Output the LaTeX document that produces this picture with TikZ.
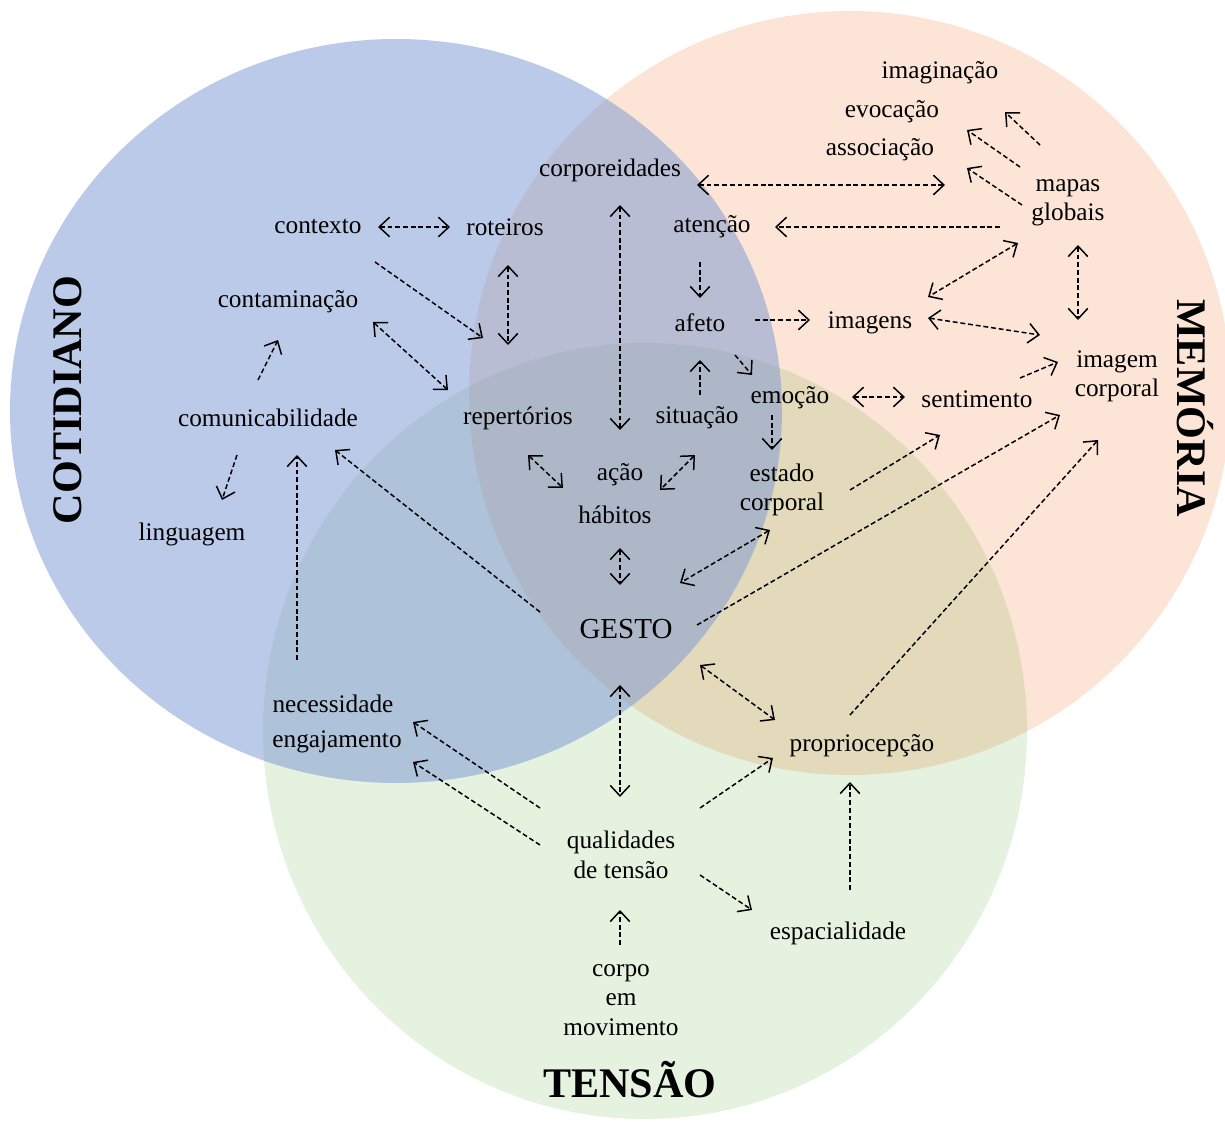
\documentclass[tikz,border=0pt]{standalone}
\usepackage{fontspec}
\setmainfont{Liberation Serif}
\usetikzlibrary{arrows.meta}

\definecolor{cotidiano}{RGB}{120,150,212}
\definecolor{memoria}{RGB}{252,229,214}
\definecolor{tensao}{RGB}{230,242,224}

\tikzset{
	word/.style={font=\fontsize{14.4}{16.7}\selectfont, inner sep=3pt, align=center},
	title/.style={font=\fontsize{24}{28}\selectfont\bfseries, inner sep=0pt},
	link/.style={line width=0.85pt, dash pattern=on 2.8pt off 1.6pt, >={Straight Barb[length=2.1mm,width=3.9mm]}}
}

\begin{document}
\begin{tikzpicture}[x=0.02cm,y=-0.02cm]
		
		\useasboundingbox[fill=white] (0,0) rectangle (1225,1122);
		
		%Circles
		\begin{scope}[blend group=multiply]
		\fill[memoria] (850,393) ellipse (381 and 382);
		\fill[tensao] (645,731) ellipse (382 and 388);
		\end{scope}
		\fill[cotidiano, fill opacity=0.5] (396,411) ellipse (386 and 372);
		
		%Titles
		\node[title, rotate=90] (cot) at (68,400) {COTIDIANO};
		\node[title, rotate=-90] (mem) at (1195,408) {MEMÓRIA};
		\node[title] (ten) at (630,1080) {TENSÃO};
		
		%Words
		\node[word] (imaginacao) at (940,73) {imaginação};
		\node[word] (evocacao) at (892,112) {evocação};
		\node[word] (associacao) at (880,150) {associação};
		\node[word] (corporeidades) at (610,170) {corporeidades};
		\node[word] (mapas) at (1068,203) {mapas\\globais};
		\node[word] (contexto) at (318,227) {contexto};
		\node[word] (roteiros) at (505,227) {roteiros};
		\node[word] (atencao) at (712,227) {atenção};
		\node[word] (contaminacao) at (288,302) {contaminação};
		\node[word] (afeto) at (700,323) {afeto};
		\node[word] (imagens) at (870,323) {imagens};
		\node[word] (imgcorporal) at (1117,376) {imagem\\corporal};
		\node[word] (comunicabilidade) at (268,418) {comunicabilidade};
		\node[word] (repertorios) at (518,418) {repertórios};
		\node[word] (situacao) at (697,418) {situação};
		\node[word] (emocao) at (790,398) {emoção};
		\node[word] (sentimento) at (977,399) {sentimento};
		\node[word] (acao) at (620,475) {ação};
		\node[word] (habitos) at (615,515) {hábitos};
		\node[word] (estado) at (782,490) {estado\\corporal};
		\node[word] (linguagem) at (192,534) {linguagem};
		\node[word, font=\fontsize{16.5}{19}\selectfont] (gesto) at (626,629) {GESTO};
		\node[word] (necessidade) at (333,704) {necessidade};
		\node[word] (engajamento) at (337,742) {engajamento};
		\node[word] (propriocepcao) at (862,746) {propriocepção};
		\node[word] (qualidades) at (621,855) {qualidades\\de tensão};
		\node[word] (espacialidade) at (838,933) {espacialidade};
		\node[word] (corpomov) at (621,1000) {corpo\\em\\movimento};
		
		%Links Cotidiano
		\draw[link,<->] ([shift={(60,0)}]contexto.center) -- ([shift={(-55,0)}]roteiros.center);
		\draw[link,->] ([shift={(57,35)}]contexto.center) -- ([shift={(-35,-80)}]repertorios.center);
		\draw[link,<->] ([shift={(3,38)}]roteiros.center) -- ([shift={(-10,-73)}]repertorios.center);
		\draw[link,<->] ([shift={(85,20)}]contaminacao.center) -- ([shift={(-70,-28)}]repertorios.center);
		\draw[link,->] ([shift={(-10,-38)}]comunicabilidade.center) -- ([shift={(-10,38)}]contaminacao.center);
		\draw[link,->] ([shift={(-31,37)}]comunicabilidade.center) -- ([shift={(30,-34)}]linguagem.center);
		\draw[link,->] ([shift={(-36,-44)}]necessidade.center) -- ([shift={(29,37)}]comunicabilidade.center);
		
		%Links Memoria
		\draw[link,<->] ([shift={(10,35)}]corporeidades.center) -- ([shift={(0,-45)}]acao.center);
		\draw[link,<->] ([shift={(87,15)}]corporeidades.center) -- ([shift={(-123,-18)}]mapas.center);
		\draw[link,->] ([shift={(-68,24)}]mapas.center) -- ([shift={(63,0)}]atencao.center);
		\draw[link,->] ([shift={(-28,-58)}]mapas.center) -- ([shift={(65,39)}]imaginacao.center);
		\draw[link,->] ([shift={(-48,-36)}]mapas.center) -- ([shift={(75,18)}]evocacao.center);
		\draw[link,->] ([shift={(-46,2)}]mapas.center) -- ([shift={(87,18)}]associacao.center);
		\draw[link,<->] ([shift={(-50,40)}]mapas.center) -- ([shift={(58,-26)}]imagens.center);
		\draw[link,<->] ([shift={(10,42)}]mapas.center) -- ([shift={(-39,-56)}]imgcorporal.center);
		\draw[link,->] ([shift={(-12,35)}]atencao.center) -- ([shift={(0,-25)}]afeto.center);
		\draw[link,->] ([shift={(55,-3)}]afeto.center) -- ([shift={(-60,-3)}]imagens.center);
		\draw[link,->] ([shift={(35,32)}]afeto.center) -- ([shift={(-38,-23)}]emocao.center);
		\draw[link,->] ([shift={(3,-23)}]situacao.center) -- ([shift={(0,37)}]afeto.center);
		\draw[link,<->] ([shift={(58,-5)}]imagens.center) -- ([shift={(-77,-41)}]imgcorporal.center);
		\draw[link,<->] ([shift={(62,-1)}]emocao.center) -- ([shift={(-72,-2)}]sentimento.center);
		\draw[link,->] ([shift={(-18,17)}]emocao.center) -- ([shift={(-10,-40)}]estado.center);
		\draw[link,->] ([shift={(43,-21)}]sentimento.center) -- ([shift={(-59,-14)}]imgcorporal.center);
		\draw[link,->] ([shift={(68,0)}]estado.center) -- ([shift={(-37,36)}]sentimento.center);
		
		%Links Gesto
		\draw[link,<->] ([shift={(10,37)}]repertorios.center) -- ([shift={(-57,13)}]acao.center);
		\draw[link,<->] ([shift={(-2,37)}]situacao.center) -- ([shift={(40,15)}]acao.center);
		\draw[link,<->] ([shift={(5,33)}]habitos.center) -- ([shift={(-6,-44)}]gesto.center);
		\draw[link,<->] ([shift={(-12,40)}]estado.center) -- ([shift={(54,-46)}]gesto.center);
		\draw[link,->] ([shift={(-86,-17)}]gesto.center) -- ([shift={(67,32)}]comunicabilidade.center);
		\draw[link,->] ([shift={(71,-4)}]gesto.center) -- ([shift={(-57,39)}]imgcorporal.center);
		\draw[link,<->] ([shift={(74,36)}]gesto.center) -- ([shift={(-87,-26)}]propriocepcao.center);
		\draw[link,<->] ([shift={(-6,56)}]gesto.center) -- ([shift={(-1,-58)}]qualidades.center);
		
		%Links Tensao
		\draw[link,->] ([shift={(-81,-47)}]qualidades.center) -- ([shift={(80,18)}]necessidade.center);
		\draw[link,->] ([shift={(-81,-10)}]qualidades.center) -- ([shift={(76,20)}]engajamento.center);
		\draw[link,->] ([shift={(79,-47)}]qualidades.center) -- ([shift={(-89,12)}]propriocepcao.center);
		\draw[link,->] ([shift={(79,20)}]qualidades.center) -- ([shift={(-86,-23)}]espacialidade.center);
		\draw[link,->] ([shift={(12,-43)}]espacialidade.center) -- ([shift={(-12,36)}]propriocepcao.center);
		\draw[link,->] ([shift={(-12,-31)}]propriocepcao.center) -- ([shift={(-19,64)}]imgcorporal.center);
		\draw[link,->] ([shift={(-1,-55)}]corpomov.center) -- ([shift={(-1,55)}]qualidades.center);
		
		\end{tikzpicture}
\end{document}
